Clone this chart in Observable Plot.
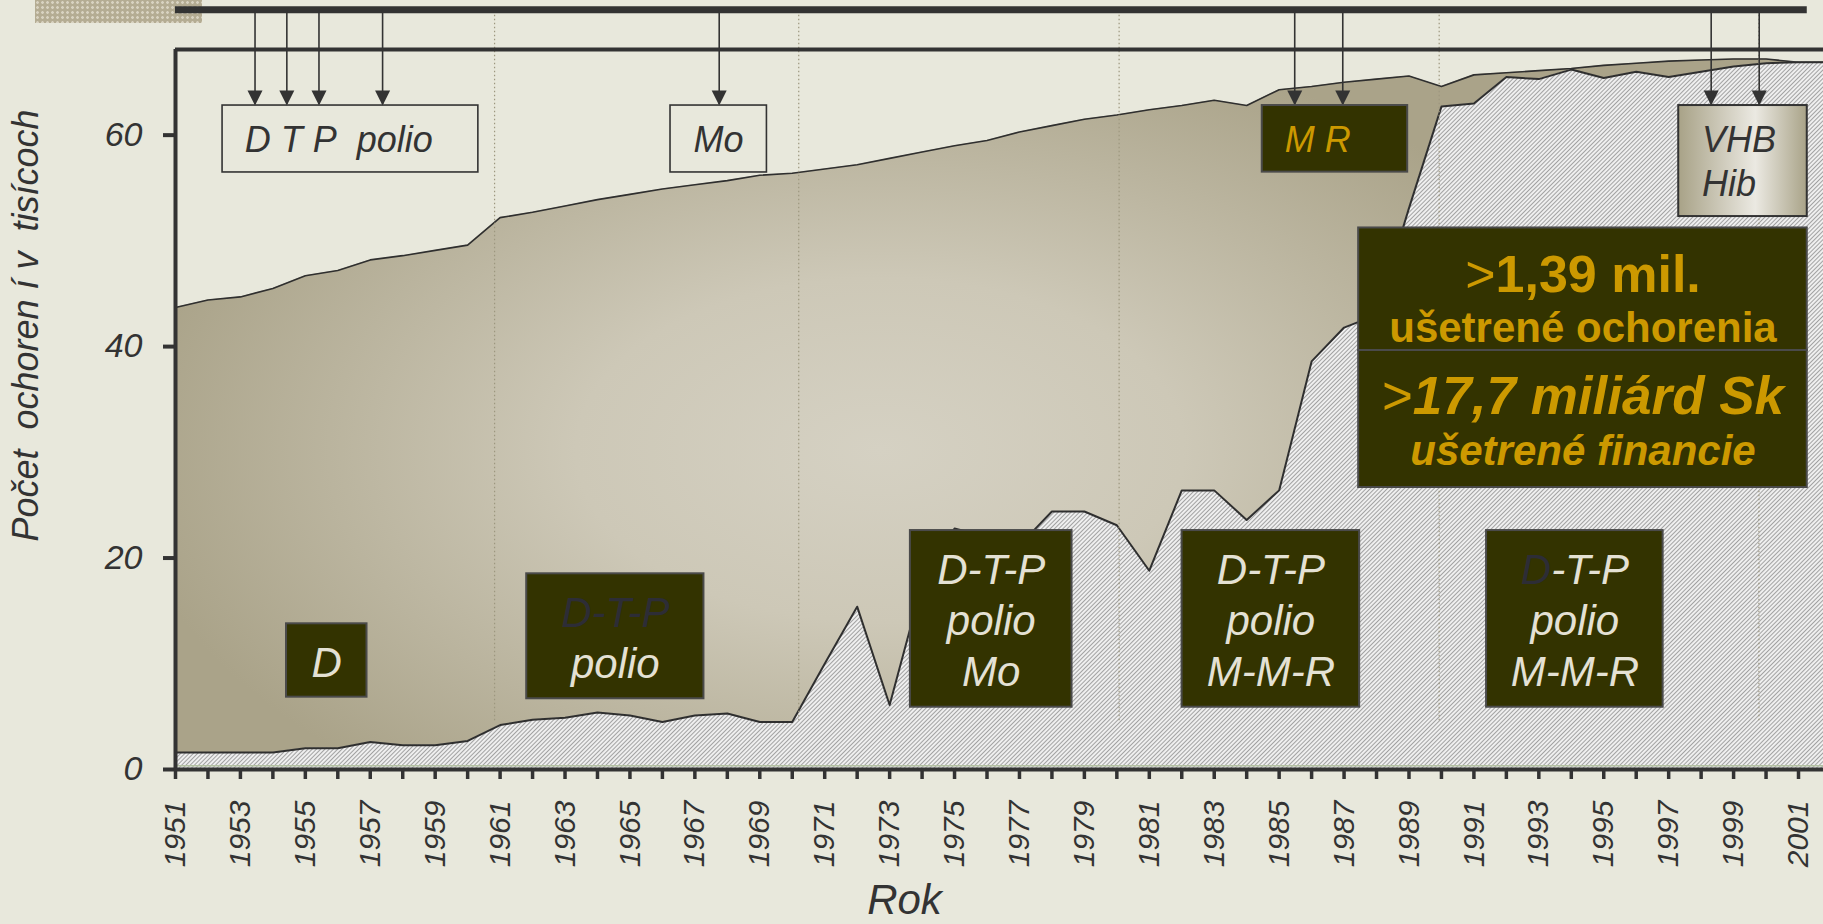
<!DOCTYPE html>
<html><head><meta charset="utf-8">
<script src="https://cdn.jsdelivr.net/npm/d3@7"></script>
<script src="https://cdn.jsdelivr.net/npm/@observablehq/plot@0.6"></script>
<style>
html,body{margin:0;padding:0;background:#e8e8dc;overflow:hidden;width:1823px;height:924px}
#chart{position:absolute;left:0;top:0}
#swatch{position:absolute;left:35px;top:0;width:167px;height:23px;background-color:#b4ac93;background-image:radial-gradient(circle,#d8d2c1 1.1px,transparent 1.6px);background-size:5px 5px}
</style></head><body>
<svg width="0" height="0" style="position:absolute">
<defs>
<radialGradient id="tanGrad" gradientUnits="userSpaceOnUse" cx="0" cy="0" r="1" gradientTransform="translate(880 450) scale(760 430)">
<stop offset="0" stop-color="#d5d1c3"/><stop offset="0.4" stop-color="#cdc8b7"/><stop offset="1" stop-color="#aaa389"/>
</radialGradient>
<pattern id="hatch" patternUnits="userSpaceOnUse" width="3" height="3" patternTransform="rotate(45)">
<rect width="3" height="3" fill="#efefef"/><rect width="1" height="3" fill="#a2a2a2"/>
</pattern>
<linearGradient id="vhbGrad" x1="0" x2="1" y1="0" y2="0">
<stop offset="0" stop-color="#a8a287"/><stop offset="0.6" stop-color="#ebe9e2"/><stop offset="1" stop-color="#a9a388"/>
</linearGradient>
</defs></svg>
<div id="swatch"></div>
<div id="chart"></div>
<script>
// ---- data ----
const years = [1951,1952,1953,1954,1955,1956,1957,1958,1959,1960,
  1961,1962,1963,1964,1965,1966,1967,1968,1969,1970,
  1971,1972,1973,1974,1975,1976,1977,1978,1979,1980,
  1981,1982,1983,1984,1985,1986,1987,1988,1989,1990,
  1991,1992,1993,1994,1995,1996,1997,1998,1999,2000,
  2001,2002];
// upper series (tan area)
const upper = [43.7,44.4,44.7,45.5,46.7,47.2,48.2,48.6,49.1,49.6,
  52.2,52.7,53.3,53.9,54.4,54.9,55.3,55.7,56.2,56.4,
  56.8,57.2,57.8,58.4,59.0,59.5,60.3,60.9,61.5,61.9,
  62.4,62.8,63.3,62.8,64.3,64.6,65.0,65.3,65.6,64.6,
  65.7,65.9,66.1,66.3,66.6,66.8,67.0,67.1,67.2,67.2,
  66.9,66.9];
// lower series (hatched area)
const lower = [1.6,1.6,1.6,1.6,2.0,2.0,2.6,2.3,2.3,2.7,
  4.2,4.7,4.9,5.4,5.1,4.5,5.1,5.3,4.5,4.5,
  10.0,15.4,6.1,17.5,22.8,22.0,21.2,24.4,24.4,23.1,
  18.8,26.4,26.4,23.6,26.4,38.6,41.8,43.0,53.1,62.7,
  63.0,65.5,65.3,66.2,65.4,66.0,65.5,66.0,66.5,66.8,
  66.9,66.9];
const yTicks = [0, 20, 40, 60];
const gridYears = [1960.83, 1970.2, 1980.07, 1989.93, 1999.78];
const arrowYears = [1953.45, 1954.43, 1955.42, 1957.38, 1967.75, 1985.48, 1986.96, 1998.31, 1999.79];
const yLabel = "Počet\u00a0\u00a0ochoren í v\u00a0\u00a0tisícoch";
const xLabel = "Rok";

const data = years.map((year, i) => ({year, upper: upper[i], lower: lower[i]}));
const tickYears = years.filter(y => y <= 2001);
const labelYears = tickYears.filter(y => (y - 1951) % 2 === 0);

// ---- annotations (data coordinates) ----
const outlineBoxes = [
  {x1: 1952.45, x2: 1960.33, y1: 56.47, y2: 62.8},
  {x1: 1966.25, x2: 1969.22, y1: 56.47, y2: 62.8}
];
const darkBoxes = [
  {x1: 1984.48, x2: 1988.96, y1: 56.5, y2: 62.8},
  {x1: 1987.45, x2: 2001.27, y1: 39.63, y2: 51.22},
  {x1: 1987.45, x2: 2001.27, y1: 26.67, y2: 39.63},
  {x1: 1954.42, x2: 1956.9, y1: 6.84, y2: 13.78},
  {x1: 1961.82, x2: 1967.28, y1: 6.69, y2: 18.51},
  {x1: 1973.64, x2: 1978.62, y1: 5.89, y2: 22.6},
  {x1: 1982.01, x2: 1987.48, y1: 5.89, y2: 22.6},
  {x1: 1991.39, x2: 1996.83, y1: 5.89, y2: 22.6}
];
const vhbBox = [{x1: 1997.31, x2: 2001.27, y1: 52.3, y2: 62.8}];
const topLeftTexts = [
  {x: 1953.13, y: 58.36, text: "D T P\u00a0\u00a0polio"},
  {x: 1998.03, y: 58.39, text: "VHB"},
  {x: 1998.03, y: 54.29, text: "Hib"}
];
const moText = [{x: 1967.73, y: 58.36, text: "Mo"}];
const mrText = [{x: 1985.17, y: 58.36, text: "M R"}];
const lightDark = [{x: 1964.55, y: 12.6, text: "D-T-P\n"}];
const boxTexts = [
  {x: 1955.66, y: 10.31, text: "D"},
  {x: 1964.55, y: 12.6, text: "\npolio"},
  {x: 1976.13, y: 14.25, text: "D-T-P\npolio\nMo"},
  {x: 1984.745, y: 14.25, text: "D-T-P\npolio\nM-M-R"},
  {x: 1994.11, y: 14.25, text: "D-T-P\npolio\nM-M-R"}
];
const bigCx = 1994.36;
const bigTexts = [
  {y: 45.15, text: ">1,39 mil.", size: 52, style: "normal"},
  {y: 40.42, text: "ušetrené ochorenia", size: 42, style: "normal"},
  {y: 33.65, text: ">17,7 miliárd Sk", size: 53, style: "italic"},
  {y: 28.76, text: "ušetrené financie", size: 42, style: "italic"}
];

const FONT = "'Liberation Sans', Arial, Helvetica, sans-serif";
const INK = "#333333";
const GOLD = "#cc9900";
const CREAM = "#e4e1d4";
const DIM = "#2d2d36";
const downTriangle = {draw(ctx) { ctx.moveTo(-7.5, -15); ctx.lineTo(7.5, -15); ctx.lineTo(0, 0); ctx.closePath(); }};

const plot = Plot.plot({
  width: 1823, height: 924,
  marginLeft: 175, marginRight: 0, marginTop: 49, marginBottom: 155,
  x: {domain: [1951, 2001.77]},
  y: {domain: [0, 68.1]},
  style: {background: "transparent", fontFamily: FONT, overflow: "visible"},
  marks: [
    Plot.areaY(data, {x: "year", y: "upper", fill: "url(#tanGrad)", clip: true}),
    Plot.lineY(data, {x: "year", y: "upper", stroke: "#2f2f2f", strokeWidth: 1.6, clip: true}),
    Plot.areaY(data, {x: "year", y: "lower", fill: "url(#hatch)", clip: true}),
    Plot.lineY(data, {x: "year", y: "lower", stroke: "#2f2f2f", strokeWidth: 2, clip: true}),
    Plot.ruleY([0.35], {stroke: "#b3c1a2", strokeWidth: 1.5}),
    Plot.ruleX(gridYears, {x: d => d, y1: 4.6, y2: 71.86, stroke: "#9d977f", strokeWidth: 1.2, strokeDasharray: "1.5 2.5"}),
    Plot.ruleY([71.86], {x1: 1951, x2: 2001.27, stroke: INK, strokeWidth: 7}),
    Plot.ruleX(arrowYears, {x: d => d, y1: 62.9, y2: 71.86, stroke: INK, strokeWidth: 1.6}),
    Plot.dot(arrowYears, {x: d => d, y: 62.8, symbol: downTriangle, fill: INK, stroke: "none", r: 5}),
    Plot.rect(outlineBoxes, {x1: "x1", x2: "x2", y1: "y1", y2: "y2", fill: "none", stroke: INK, strokeWidth: 1.6}),
    Plot.rect(darkBoxes, {x1: "x1", x2: "x2", y1: "y1", y2: "y2", fill: "#333300", stroke: "#4a4a4a", strokeWidth: 2}),
    Plot.rect(vhbBox, {x1: "x1", x2: "x2", y1: "y1", y2: "y2", fill: "url(#vhbGrad)", stroke: INK, strokeWidth: 2}),
    Plot.text(topLeftTexts, {x: "x", y: "y", text: "text", textAnchor: "start", lineAnchor: "bottom", fontSize: 36, fontStyle: "italic", fill: INK}),
    Plot.text(moText, {x: "x", y: "y", text: "text", textAnchor: "middle", lineAnchor: "bottom", fontSize: 36, fontStyle: "italic", fill: INK}),
    Plot.text(mrText, {x: "x", y: "y", text: "text", textAnchor: "start", lineAnchor: "bottom", fontSize: 36, fontStyle: "italic", fill: GOLD}),
    Plot.text(lightDark, {x: "x", y: "y", text: "text", lineAnchor: "middle", lineHeight: 1.22, fontSize: 42, fontStyle: "italic", fill: DIM}),
    Plot.text(boxTexts, {x: "x", y: "y", text: "text", lineAnchor: "middle", lineHeight: 1.22, fontSize: 42, fontStyle: "italic", fill: CREAM}),
    ...bigTexts.map(t => Plot.text([t], {x: () => bigCx, y: "y", text: "text", lineAnchor: "bottom", fontSize: t.size, fontWeight: "bold", fontStyle: t.style, fill: GOLD})),
    Plot.axisY({ticks: yTicks, tickSize: 12, tickFormat: () => "", color: INK, strokeWidth: 4, label: null}),
    Plot.text(yTicks, {x: 1951, y: d => d, text: d => String(d), dx: -33, textAnchor: "end", lineAnchor: "middle", fontSize: 34, fontStyle: "italic", fill: INK}),
    Plot.axisX({ticks: tickYears, tickSize: 10, tickFormat: () => "", color: INK, strokeWidth: 3.5, label: null}),
    Plot.axisX({ticks: labelYears, tickSize: 0, tickPadding: 31, tickRotate: -90, textAnchor: "end", lineAnchor: "middle", tickFormat: d => String(d), fontSize: 30, fontStyle: "italic", color: INK, label: null}),
    Plot.ruleX([1951], {stroke: INK, strokeWidth: 4}),
    Plot.ruleY([0], {stroke: INK, strokeWidth: 4}),
    Plot.ruleY([68.1], {stroke: INK, strokeWidth: 4}),
    Plot.text([yLabel], {text: d => d, frameAnchor: "left", dx: -149, dy: -84, rotate: -90, textAnchor: "middle", lineAnchor: "middle", fontSize: 36, fontStyle: "italic", fill: INK}),
    Plot.text([xLabel], {text: d => d, frameAnchor: "bottom", dx: -95, dy: 144, lineAnchor: "bottom", fontSize: 42, fontStyle: "italic", fill: INK})
  ]
});

// styling of mixed-colour / mixed-weight text runs
plot.querySelectorAll("text").forEach(t => {
  const spans = t.querySelectorAll("tspan");
  if (spans.length === 3 && spans[0].textContent === "D-T-P" && spans[2].textContent === "M-M-R") {
    t.dataset.mmr = "1";
  }
  if (!spans.length && t.textContent.startsWith(">")) {
    const rest = t.textContent.slice(1);
    t.textContent = "";
    const gt = document.createElementNS("http://www.w3.org/2000/svg", "tspan");
    gt.setAttribute("font-weight", "400");
    gt.setAttribute("font-style", "normal");
    gt.textContent = ">";
    t.appendChild(gt);
    t.appendChild(document.createTextNode(rest));
  }
});
const mmr = plot.querySelectorAll("text[data-mmr]");
if (mmr.length) {
  const first = mmr[mmr.length - 1].querySelector("tspan");
  first.textContent = "";
  const d = document.createElementNS("http://www.w3.org/2000/svg", "tspan");
  d.setAttribute("fill", DIM);
  d.textContent = "D";
  first.appendChild(d);
  first.appendChild(document.createTextNode("-T-P"));
}
document.getElementById("chart").appendChild(plot);
</script>
</body></html>
